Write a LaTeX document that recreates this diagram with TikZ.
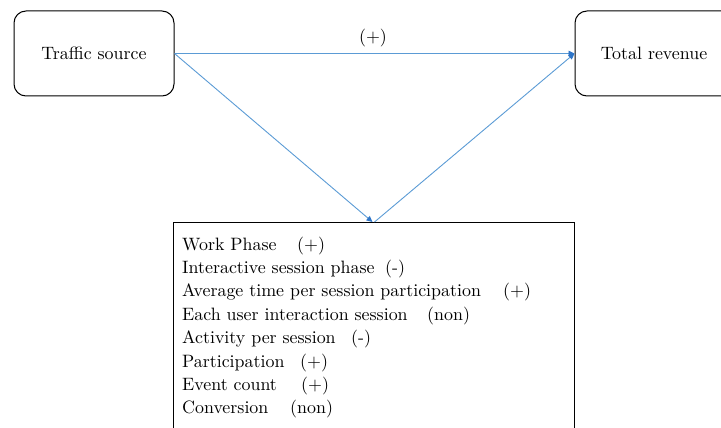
\documentclass[tikz,border=0pt]{standalone}
\usepackage{fontspec}
\setmainfont{lmroman10-regular.otf}
\usetikzlibrary{arrows.meta}
\definecolor{linkblue}{RGB}{91,155,213}
\definecolor{tipblue}{RGB}{46,117,200}
\begin{document}
\begin{tikzpicture}[x=1pt,y=1pt,
  every node/.style={font=\fontsize{17.9}{23}\selectfont, inner sep=0pt},
  endbox/.style={draw=black, line width=1pt, rounded corners=12pt,
    minimum width=160pt, minimum height=85pt},
  listbox/.style={draw=black, line width=1pt, minimum width=401pt,
    minimum height=230pt, anchor=north},
  link/.style={draw=linkblue, line width=0.9pt,
    -{Triangle[length=6pt,width=5.5pt,color=tipblue]}},
  row/.style={anchor=base west},
  sign/.style={anchor=base west}]
\path[use as bounding box] (0,0) rectangle (721,-428);
\clip (0,0) rectangle (721,-428);

% end points of the model
\node[endbox] (ts) at (94,-53.5) {Traffic source};
\node[endbox] (tr) at (655,-53.5) {\hspace*{-2pt}Total revenue};

% box listing the mediating metrics
\node[listbox] (mb) at (373.5,-222) {};

% direct and indirect paths
\draw[link] (ts.east) -- (tr.west);
\node (dl) at (373,-38) {(+)};
\draw[link] (ts.east) -- ([xshift=-1pt]mb.north);
\draw[link] ([xshift=1pt]mb.north) -- (tr.west);

% metric names
\node[row] (r1) at (182,-250)   {Work Phase};
\node[row] (r2) at (182,-273.4) {Interactive session phase};
\node[row] (r3) at (182,-296.8) {Average time per session participation};
\node[row] (r4) at (182,-320.2) {Each user interaction session};
\node[row] (r5) at (182,-343.6) {Activity per session};
\node[row] (r6) at (182,-367)   {Participation};
\node[row] (r7) at (182,-390.4) {Event count};
\node[row] (r8) at (182,-413.8) {Conversion};

% direction of each effect
\node[sign] (s1) at (297,-250)   {(+)};
\node[sign] (s2) at (385,-273.4) {(-)};
\node[sign] (s3) at (503,-296.8) {(+)};
\node[sign] (s4) at (427,-320.2) {(non)};
\node[sign] (s5) at (351,-343.6) {(-)};
\node[sign] (s6) at (300,-367)   {(+)};
\node[sign] (s7) at (301,-390.4) {(+)};
\node[sign] (s8) at (290,-413.8) {(non)};
\end{tikzpicture}
\end{document}
